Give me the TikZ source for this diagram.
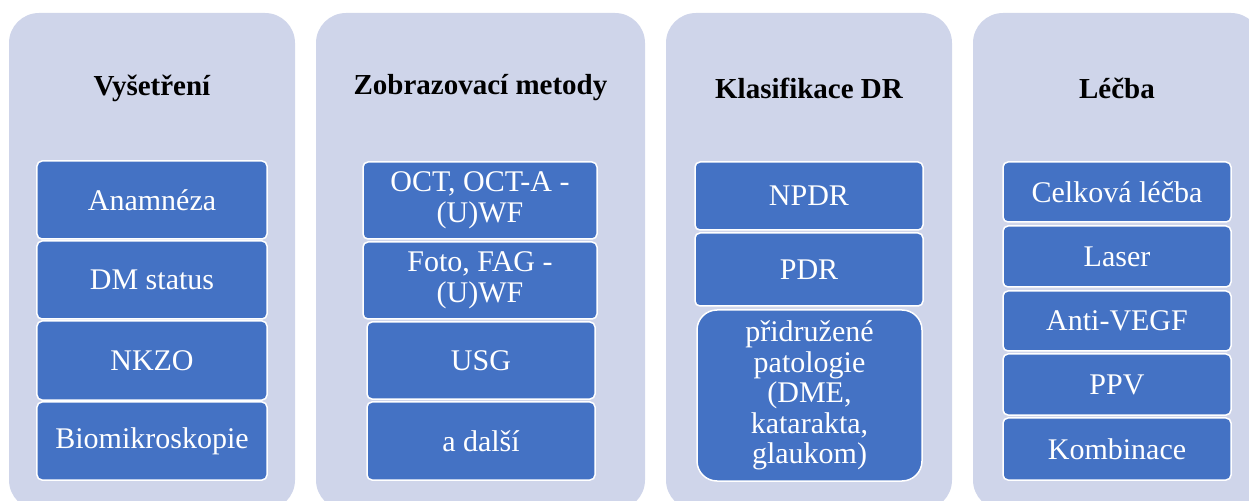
\documentclass[tikz,border=0pt]{standalone}
\usepackage{fontspec}
\newfontfamily\ser{Liberation Serif}
\definecolor{lav}{HTML}{CFD5EA}
\definecolor{itemblue}{HTML}{4472C4}
\tikzset{
  panel/.style={fill=lav, draw=none, rounded corners=30bp},
  title/.style={font=\ser\fontsize{29bp}{31bp}\selectfont\bfseries, text=black, inner sep=0pt, align=center},
  item/.style={rectangle, fill=itemblue, draw=white, line width=1.5bp, rounded corners=5bp,
    text=white, font=\ser\fontsize{30bp}{30.5bp}\selectfont, align=center, inner sep=0pt},
}
\begin{document}
\begin{tikzpicture}[x=1bp,y=-1bp]
\useasboundingbox (0,0) rectangle (1249,501);
\clip (0,0) rectangle (1249,501);
% panels
\fill[panel] (9,13) rectangle (295,510);
\fill[panel] (316,13) rectangle (645,510);
\fill[panel] (666,13) rectangle (952,510);
\fill[panel] (973,13) rectangle (1261,510);
% titles
\node[title] (t1) at (152,88) {Vyšetření};
\node[title] (t2) at (480.5,88) {Zobrazovací metody};
\node[title] (t3) at (809,88) {Klasifikace DR};
\node[title] (t4) at (1117,88) {Léčba};
% column 1
\node[item, minimum width=230bp, minimum height=78bp] (a1) at (152,200) {Anamnéza};
\node[item, minimum width=230bp, minimum height=78bp] (a2) at (152,280) {DM status};
\node[item, minimum width=230bp, minimum height=79bp] (a3) at (152,360.5) {NKZO};
\node[item, minimum width=230bp, minimum height=78bp] (a4) at (152,441) {Biomikroskopie};
% column 2
\node[item, minimum width=234bp, minimum height=77bp] (b1) at (480,200.5) {OCT, OCT-A -\\(U)WF};
\node[item, minimum width=234bp, minimum height=77bp] (b2) at (480,280.5) {Foto, FAG -\\(U)WF};
\node[item, minimum width=228bp, minimum height=77bp] (b3) at (481,360.5) {USG};
\node[item, minimum width=228bp, minimum height=78bp] (b4) at (481,441) {a další};
% column 3
\node[item, minimum width=228bp, minimum height=68bp] (c1) at (809,196) {NPDR};
\node[item, minimum width=228bp, minimum height=73bp] (c2) at (809,269.5) {PDR};
\node[item, rounded corners=20bp, minimum width=225bp, minimum height=171bp] (c3) at (809.5,395.5) {přidružené\\patologie\\(DME,\\katarakta,\\glaukom)};
% column 4
\node[item, minimum width=228bp, minimum height=60bp] (d1) at (1117,192) {Celková léčba};
\node[item, minimum width=228bp, minimum height=61bp] (d2) at (1117,256.5) {Laser};
\node[item, minimum width=228bp, minimum height=60bp] (d3) at (1117,321) {Anti-VEGF};
\node[item, minimum width=228bp, minimum height=61bp] (d4) at (1117,384.5) {PPV};
\node[item, minimum width=228bp, minimum height=62bp] (d5) at (1117,449) {Kombinace};
\end{tikzpicture}
\end{document}
